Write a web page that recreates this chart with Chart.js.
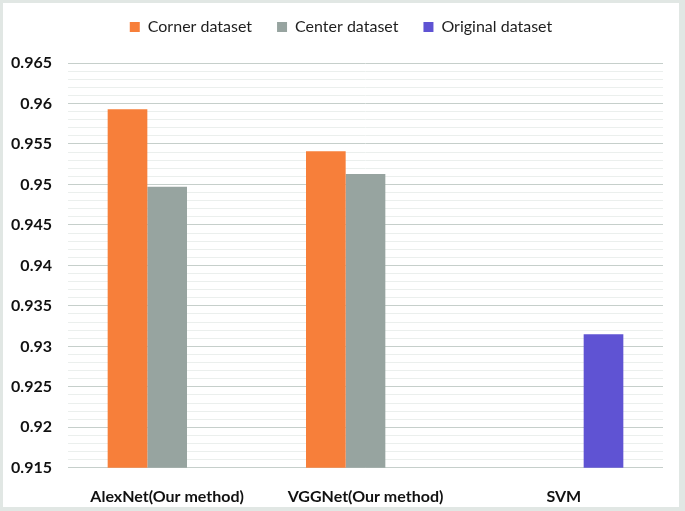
<!DOCTYPE html>
<html>
<head>
<meta charset="utf-8">
<script src="https://cdn.jsdelivr.net/npm/chart.js@4"></script>
<style>
  html, body { margin: 0; padding: 0; }
  body { width: 685px; height: 511px; background: #e1e7e4; position: relative; overflow: hidden; }
  #wrap { position: absolute; left: 3px; top: 3px; width: 676px; height: 504px; background: #fff; }
</style>
</head>
<body>
<div id="wrap"><canvas id="chart"></canvas></div>
<script>
const categories = ['AlexNet(Our method)', 'VGGNet(Our method)', 'SVM'];
const cornerValues = [0.9593, 0.9541, null];
const centerValues = [0.9497, 0.9513, null];
const originalValues = [null, null, 0.9315];
const yMin = 0.915;
const yMax = 0.965;

const ctx = document.getElementById('chart').getContext('2d');

const isMajor = (v) => Math.round(v * 1000) % 5 === 0;

// extra room under the legend
const legendGap = {
    id: 'legendGap',
    beforeInit(chart) {
        const fit = chart.legend.fit;
        chart.legend.fit = function () {
            fit.bind(chart.legend)();
            this.height += 18;
        };
    }
};

const myChart = new Chart(ctx, {
    type: 'bar',
    data: {
        labels: categories,
        datasets: [
            { label: 'Corner dataset', data: cornerValues, backgroundColor: '#f77f3a' },
            { label: 'Center dataset', data: centerValues, backgroundColor: '#97a4a0' },
            { label: 'Original dataset', data: originalValues, backgroundColor: '#5f53d3' }
        ]
    },
    plugins: [legendGap],
    options: {
        responsive: true,
        maintainAspectRatio: false,
        animation: false,
        datasets: {
            bar: { categoryPercentage: 0.6, barPercentage: 1.0 }
        },
        layout: { padding: { top: -9, right: 0, bottom: -10, left: 0 } },
        plugins: {
            legend: {
                position: 'top',
                labels: {
                    boxWidth: 10,
                    boxHeight: 10,
                    padding: 25,
                    color: '#1e1e1e',
                    font: { family: 'Lato', size: 16 }
                }
            },
            tooltip: { enabled: false }
        },
        scales: {
            x: {
                grid: { display: false },
                border: { display: false },
                ticks: {
                    color: '#111',
                    padding: 11,
                    font: { family: 'Lato', size: 16, weight: 'bold' }
                }
            },
            y: {
                min: yMin,
                max: yMax,
                border: { display: false },
                grid: {
                    drawTicks: false,
                    color: (c) => (c.tick && isMajor(c.tick.value)) ? '#c6cfcb' : '#ebefed'
                },
                afterFit: (scale) => { scale.width = 65; },
                ticks: {
                    stepSize: 0.001,
                    maxTicksLimit: 100,
                    autoSkip: false,
                    padding: 16,
                    color: '#111',
                    font: { family: 'Lato', size: 16, weight: 'bold' },
                    callback: (v) => isMajor(v) ? String(Number(v.toFixed(3))) : ''
                }
            },
            // empty right axis, only keeps a margin right of the plot
            yRight: {
                position: 'right',
                min: yMin,
                max: yMax,
                grid: { display: false },
                border: { display: false },
                ticks: { display: false },
                afterFit: (scale) => { scale.width = 16; }
            }
        }
    }
});
</script>
</body>
</html>
